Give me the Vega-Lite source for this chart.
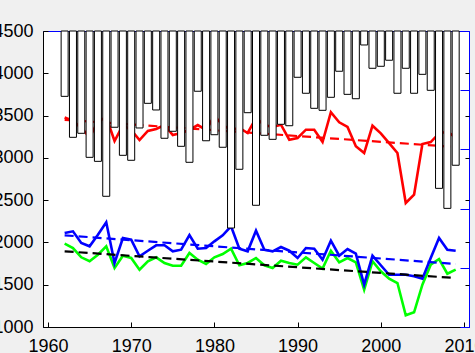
{
  "$schema": "https://vega.github.io/schema/vega-lite/v6.json",
  "autosize": {"type": "none"},
  "width": 426,
  "height": 296,
  "padding": {"left": 43, "top": 31, "right": 6, "bottom": 26},
  "background": "#f0f0f0",
  "config": {
    "view": {"fill": "white", "stroke": "#0000ff", "strokeWidth": 1},
    "axis": {"labelFont": "Liberation Sans", "labelFontSize": 18, "labelColor": "#000", "grid": false, "domainColor": "#000", "tickColor": "#000", "labelFlush": false, "labelOverlap": false}
  },
  "datasets": {
    "lines": [
      {"year": 1962, "r": 3477, "b": 2111, "g": 1985},
      {"year": 1963, "r": 3436, "b": 2131, "g": 1934},
      {"year": 1964, "r": 3353, "b": 1993, "g": 1824},
      {"year": 1965, "r": 3247, "b": 1954, "g": 1777},
      {"year": 1966, "r": 3424, "b": 2091, "g": 1855},
      {"year": 1967, "r": 3483, "b": 2238, "g": 1954},
      {"year": 1968, "r": 3199, "b": 1757, "g": 1698},
      {"year": 1969, "r": 3388, "b": 2052, "g": 1843},
      {"year": 1970, "r": 3330, "b": 2032, "g": 1816},
      {"year": 1971, "r": 3211, "b": 1836, "g": 1678},
      {"year": 1972, "r": 3318, "b": 1902, "g": 1777},
      {"year": 1973, "r": 3341, "b": 1966, "g": 1824},
      {"year": 1974, "r": 3388, "b": 1966, "g": 1757},
      {"year": 1975, "r": 3270, "b": 1895, "g": 1725},
      {"year": 1976, "r": 3294, "b": 1914, "g": 1725},
      {"year": 1977, "r": 3330, "b": 2088, "g": 1875},
      {"year": 1978, "r": 3388, "b": 1926, "g": 1796},
      {"year": 1979, "r": 3330, "b": 1934, "g": 1745},
      {"year": 1980, "r": 3495, "b": 2013, "g": 1824},
      {"year": 1981, "r": 3388, "b": 2084, "g": 1863},
      {"year": 1982, "r": 3330, "b": 2191, "g": 1926},
      {"year": 1983, "r": 3353, "b": 1926, "g": 1730},
      {"year": 1984, "r": 3294, "b": 1895, "g": 1757},
      {"year": 1985, "r": 3471, "b": 2139, "g": 1816},
      {"year": 1986, "r": 3388, "b": 1914, "g": 1730},
      {"year": 1987, "r": 3365, "b": 1895, "g": 1698},
      {"year": 1988, "r": 3392, "b": 1946, "g": 1784},
      {"year": 1989, "r": 3215, "b": 1902, "g": 1757},
      {"year": 1990, "r": 3235, "b": 1816, "g": 1737},
      {"year": 1991, "r": 3333, "b": 1934, "g": 1824},
      {"year": 1992, "r": 3333, "b": 1926, "g": 1757},
      {"year": 1993, "r": 3187, "b": 1796, "g": 1690},
      {"year": 1994, "r": 3539, "b": 2021, "g": 1902},
      {"year": 1995, "r": 3420, "b": 1843, "g": 1765},
      {"year": 1996, "r": 3365, "b": 1922, "g": 1816},
      {"year": 1997, "r": 3137, "b": 1867, "g": 1765},
      {"year": 1998, "r": 3057, "b": 1500, "g": 1441},
      {"year": 1999, "r": 3380, "b": 1843, "g": 1777},
      {"year": 2000, "r": 3290, "b": 1730, "g": 1659},
      {"year": 2001, "r": 3175, "b": 1618, "g": 1571},
      {"year": 2002, "r": 3057, "b": 1618, "g": 1520},
      {"year": 2003, "r": 2466, "b": 1618, "g": 1138},
      {"year": 2004, "r": 2564, "b": 1599, "g": 1174},
      {"year": 2005, "r": 3164, "b": 1571, "g": 1500},
      {"year": 2006, "r": 3187, "b": 1816, "g": 1737},
      {"year": 2007, "r": 3290, "b": 2052, "g": 1804},
      {"year": 2008, "r": 3310, "b": 1914, "g": 1630},
      {"year": 2009, "r": 3240, "b": 1902, "g": 1678}
    ],
    "trends": [
      {"year": 1962, "series": "rt", "value": 3450},
      {"year": 2009, "series": "rt", "value": 3128},
      {"year": 1962, "series": "bt", "value": 2084},
      {"year": 2009, "series": "bt", "value": 1745},
      {"year": 1962, "series": "kt", "value": 1895},
      {"year": 2009, "series": "kt", "value": 1579}
    ],
    "bars": [
      {"year": 1962, "p": 552}, {"year": 1963, "p": 898}, {"year": 1964, "p": 864},
      {"year": 1965, "p": 1067}, {"year": 1966, "p": 1101}, {"year": 1967, "p": 1396},
      {"year": 1968, "p": 813}, {"year": 1969, "p": 1050}, {"year": 1970, "p": 1092},
      {"year": 1971, "p": 819}, {"year": 1972, "p": 611}, {"year": 1973, "p": 667},
      {"year": 1974, "p": 906}, {"year": 1975, "p": 847}, {"year": 1976, "p": 974},
      {"year": 1977, "p": 1109}, {"year": 1978, "p": 509}, {"year": 1979, "p": 927},
      {"year": 1980, "p": 876}, {"year": 1981, "p": 982}, {"year": 1982, "p": 1664},
      {"year": 1983, "p": 1168}, {"year": 1984, "p": 690}, {"year": 1985, "p": 1472},
      {"year": 1986, "p": 881}, {"year": 1987, "p": 915}, {"year": 1988, "p": 788},
      {"year": 1989, "p": 800}, {"year": 1990, "p": 391}, {"year": 1991, "p": 526},
      {"year": 1992, "p": 653}, {"year": 1993, "p": 670}, {"year": 1994, "p": 560},
      {"year": 1995, "p": 340}, {"year": 1996, "p": 535}, {"year": 1997, "p": 572},
      {"year": 1998, "p": 118}, {"year": 1999, "p": 315}, {"year": 2000, "p": 298},
      {"year": 2001, "p": 247}, {"year": 2002, "p": 526}, {"year": 2003, "p": 315},
      {"year": 2004, "p": 526}, {"year": 2005, "p": 366}, {"year": 2006, "p": 501},
      {"year": 2007, "p": 1329}, {"year": 2008, "p": 1498}, {"year": 2009, "p": 1134}
    ]
  },
  "encoding": {
    "x": {
      "field": "year", "type": "quantitative",
      "scale": {"domain": [1960, 2010], "nice": false, "zero": false},
      "axis": {"title": null, "values": [1960, 1970, 1980, 1990, 2000, 2010], "format": "d", "tickSize": -5, "labelPadding": 15, "labelBaseline": "top"}
    }
  },
  "layer": [
    {
      "layer": [
        {
          "data": {"name": "lines"},
          "transform": [{"fold": ["r", "g", "b"], "as": ["series", "value"]}],
          "mark": {"type": "line", "strokeWidth": 2.6},
          "encoding": {
            "y": {"field": "value", "type": "quantitative",
              "scale": {"domain": [1000, 4500], "nice": false, "zero": false},
              "axis": {"title": null, "orient": "left", "format": "d", "values": [1000, 1500, 2000, 2500, 3000, 3500, 4000, 4500], "tickSize": -5, "labelPadding": 15}},
            "color": {"field": "series", "type": "nominal",
              "scale": {"domain": ["r", "g", "b"], "range": ["#ff0000", "#00ff00", "#0000ff"]}, "legend": null},
            "detail": {"field": "series"}
          }
        },
        {
          "data": {"name": "trends"},
          "mark": {"type": "line", "strokeWidth": 2.2, "strokeDash": [9, 5]},
          "encoding": {
            "y": {"field": "value", "type": "quantitative"},
            "color": {"field": "series", "type": "nominal",
              "scale": {"domain": ["rt", "bt", "kt"], "range": ["#ff0000", "#0000ff", "#000000"]}, "legend": null},
            "detail": {"field": "series"}
          }
        }
      ],
      "resolve": {"scale": {"color": "independent"}}
    },
    {
      "data": {"name": "bars"},
      "mark": {"type": "bar", "fill": "white", "stroke": "black", "strokeWidth": 1, "width": 7},
      "encoding": {
        "y": {"field": "p", "type": "quantitative",
          "scale": {"domain": [0, 2500], "reverse": true, "nice": false},
          "axis": {"title": null, "orient": "right", "values": [0, 500, 1000, 1500, 2000, 2500], "tickSize": -9, "labels": false, "domainColor": "#0000ff", "tickColor": "#0000ff"}}
      }
    },
    {
      "data": {"name": "trends"},
      "mark": {"type": "rule", "opacity": 0},
      "encoding": {
        "y": {"field": "value", "type": "quantitative",
          "scale": {"domain": [1000, 4500], "nice": false, "zero": false},
          "axis": {"title": null, "orient": "right", "values": [1500, 2000, 2500, 3000, 3500, 4000], "tickSize": -4, "labels": false, "domain": false, "offset": 0}}
      }
    }
  ],
  "resolve": {"scale": {"y": "independent", "color": "independent"}}
}
